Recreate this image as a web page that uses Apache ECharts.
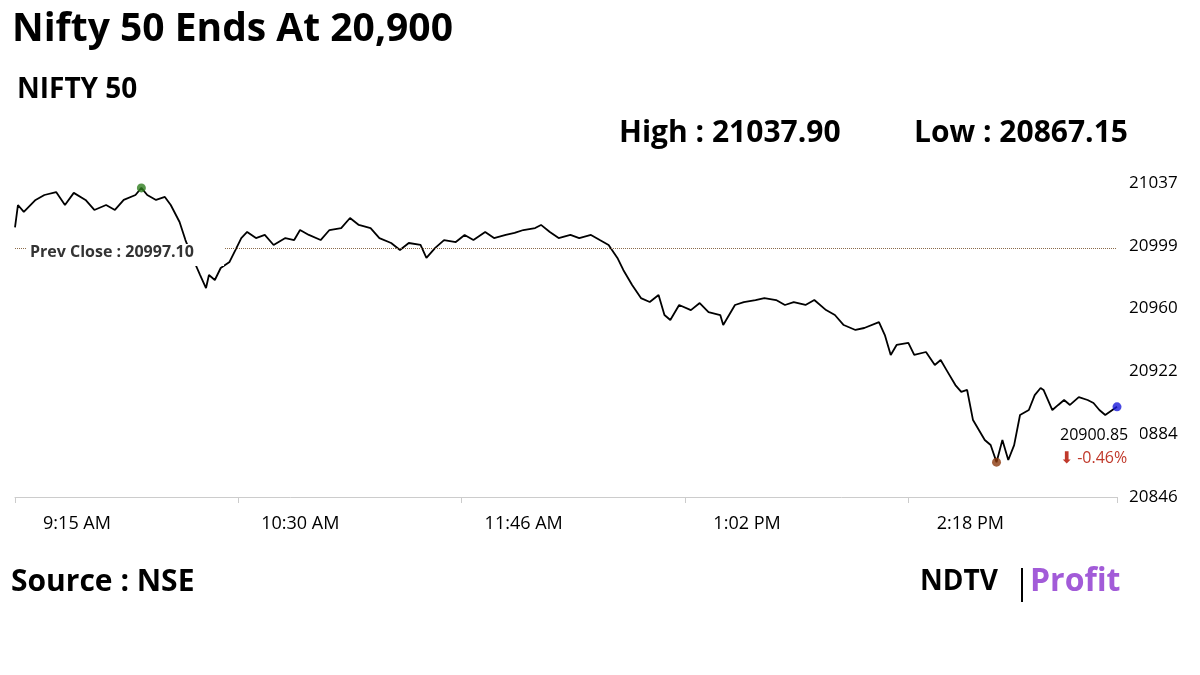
<!DOCTYPE html>
<html><head><meta charset="utf-8">
<script src="https://cdn.jsdelivr.net/npm/echarts@6/dist/echarts.min.js"></script>
<style>html,body{margin:0;padding:0;background:#fff}#c{width:1200px;height:675px}</style>
</head><body><div id="c"></div>
<script>
const minutes=[0,1,3,7,10,14,17,20,24,27,31,34,37,41,43,45,48,51,53,56,58,60,63,65,66,68,70,73,75,77,79,82,85,88,92,95,97,100,104,107,111,114,117,121,124,128,131,134,138,140,143,146,150,153,156,160,163,167,170,173,177,179,182,185,189,192,196,199,202,205,207,210,213,216,219,221,223,226,230,233,236,240,241,245,248,252,255,259,262,265,269,272,276,279,282,286,289,294,296,298,300,304,306,310,313,315,317,320,322,324,326,328,330,332,334,336,338,340,342,345,347,349,350,353,355,357,359,362,365,367,369,371,375];
const prices=[21010,21023.6,21019.4,21026.7,21029.7,21031.5,21023.6,21031,21026.7,21020.6,21023.6,21020.6,21026.7,21029.7,21034,21029.7,21026.7,21028.5,21023.6,21013.3,21002.3,20993.2,20981,20973.1,20981,20978,20985.3,20989,20996.2,21003.5,21007.2,21003.5,21005.4,20999.3,21003.5,21002.3,21008.4,21005.4,21002.3,21008.4,21009.6,21015.7,21011.5,21009.6,21003.5,21000.5,20996.2,21000.5,20999.3,20991.4,20997.5,21002.3,21001.1,21005.4,21002.3,21007.2,21003.5,21005.4,21006.6,21008.4,21009.6,21011.5,21007.2,21003.5,21005.4,21003.5,21005.4,21002.3,20999.3,20991.4,20984.1,20975,20967,20964.6,20968.9,20956.7,20953.7,20962.8,20959.7,20964,20958.5,20956.7,20950.6,20962.8,20964.6,20965.8,20967,20965.8,20962.8,20964.6,20962.8,20965.8,20959.7,20956.7,20950.6,20947.6,20948.8,20952.4,20944.5,20932.4,20938.5,20939.7,20932.4,20934.2,20926.3,20929.3,20923.2,20914.1,20909.9,20911.1,20892.8,20886.8,20880.7,20877.6,20867.2,20880.7,20868.5,20877.6,20895.9,20898.9,20908,20912.3,20911.1,20898.9,20902,20905,20902,20906.8,20905,20903.2,20898.9,20895.9,20900.85];
const yTicks=['20846','20884','20922','20960','20999','21037'];
const xTicks=['9:15 AM','10:30 AM','11:46 AM','1:02 PM','2:18 PM'];
const yMin=20846, yStep=38.2;
const prevClose=20997.10;
const data=minutes.map((m,i)=>[m,prices[i]-yMin]);
const hiI=prices.indexOf(Math.max(...prices)), loI=prices.indexOf(Math.min(...prices)), last=prices.length-1;
const F='"Open Sans", sans-serif';
const ch=echarts.init(document.getElementById('c'));
ch.setOption({
animation:false,
grid:{left:15,right:83,top:183,bottom:178},
xAxis:{type:'value',min:0,max:375,interval:76,offset:10,
 axisLine:{show:true,lineStyle:{color:'#ccc'}},axisTick:{show:true,length:6,lineStyle:{color:'#ccc'}},
 splitLine:{show:false},
 axisLabel:{color:'#000',fontSize:18,fontFamily:F,margin:8,padding:[0,0,0,124],
  formatter:(v)=>{const i=Math.round(v/76);return xTicks[i]||'';}}},
yAxis:{type:'value',position:'right',min:0,max:191,interval:yStep,
 axisLine:{show:false},axisTick:{show:false},splitLine:{show:false},
 axisLabel:{color:'#000',fontSize:17,fontFamily:F,margin:12,
  formatter:(v)=>yTicks[Math.round(v/yStep)]||''}},
series:[{type:'line',data:data,showSymbol:false,symbol:'none',lineStyle:{color:'#000',width:1.8},
 markLine:{silent:true,symbol:'none',lineStyle:{color:'#8b6b4a',type:'dotted',width:1},
  label:{show:false},data:[{yAxis:prevClose-yMin}]}},
 {type:'scatter',symbolSize:9,z:5,data:[
  {value:data[hiI],itemStyle:{color:'#2e7d1e'}},
  {value:data[loI],itemStyle:{color:'#8b3a0e'}},
  {value:data[last],itemStyle:{color:'#1a1adb'}}]}],
graphic:[
 {type:'text',left:12,top:10,style:{text:'Nifty 50 Ends At 20,900',font:'bold 39px '+F,fill:'#000'}},
 {type:'text',left:17,top:76,style:{text:'NIFTY 50',font:'bold 28px '+F,fill:'#000'}},
 {type:'text',left:619,top:118,style:{text:'High : 21037.90',font:'bold 30px '+F,fill:'#000'}},
 {type:'text',left:914,top:118,style:{text:'Low : 20867.15',font:'bold 30px '+F,fill:'#000'}},
 {type:'rect',z:100,shape:{x:26,y:244,width:198,height:22},style:{fill:'#fff'}},
 {type:'text',z:101,left:30,top:244,style:{text:'Prev Close : 20997.10',font:'bold 16px '+F,fill:'#333'}},
 {type:'rect',shape:{x:1056,y:426,width:84,height:46},style:{fill:'#fff'},z:100},
 {type:'text',left:1060,top:427,z:101,style:{text:'20900.85',font:'16px '+F,fill:'#000'}},
 {type:'text',left:1060,top:450,z:101,style:{text:'⬇ -0.46%',font:'16px '+F,fill:'#c0392b'}},
 {type:'text',left:11,top:567,style:{text:'Source : NSE',font:'bold 30px '+F,fill:'#000'}},
 {type:'text',left:920,top:568,style:{text:'NDTV',font:'bold 28px '+F,fill:'#000'}},
 {type:'rect',shape:{x:1021,y:568,width:2,height:34},style:{fill:'#000'}},
 {type:'text',left:1030,top:566,style:{text:'Profit',font:'bold 32px '+F,fill:'#a25bd8'}}
]});
</script></body></html>
